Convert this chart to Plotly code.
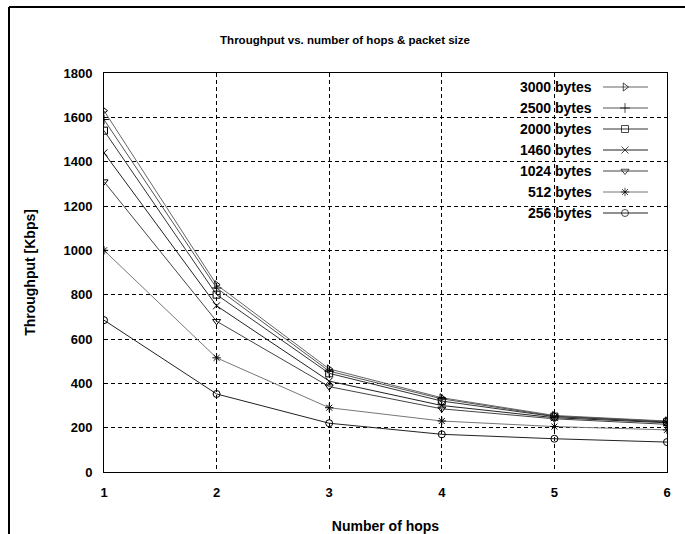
import plotly.graph_objects as go

hops = [1, 2, 3, 4, 5, 6]
names = ["3000 bytes", "2500 bytes", "2000 bytes", "1460 bytes", "1024 bytes", "512 bytes", "256 bytes"]
b3000 = [1630, 845, 465, 335, 255, 230]
b2500 = [1590, 830, 455, 330, 252, 228]
b2000 = [1540, 800, 445, 320, 250, 225]
b1460 = [1440, 750, 410, 300, 245, 222]
b1024 = [1310, 680, 385, 285, 240, 215]
b512 = [1000, 515, 290, 230, 205, 190]
b256 = [685, 352, 220, 170, 150, 135]
series = [b3000, b2500, b2000, b1460, b1024, b512, b256]
symbols = ["triangle-right-open", "cross-thin-open", "square-open", "x-thin-open",
           "triangle-down-open", "asterisk-open", "circle-open"]
line_colors = ["#666", "#555", "#333", "#222", "#444", "#777", "#222"]

W, H = 685, 534
L, R, T, B = 104, 18, 73, 62
pw, ph = W - L - R, H - T - B

def px(x):
    return (x - L) / pw

def py(y):
    return 1 - (y - T) / ph

FONT = "Liberation Sans, Arial, sans-serif"
fig = go.Figure()
for name, vals, sym, col in zip(names, series, symbols, line_colors):
    fig.add_trace(go.Scatter(
        x=hops, y=vals, mode="lines+markers", name=name, showlegend=False,
        line=dict(color=col, width=1),
        marker=dict(symbol=sym, size=7, color="black", line=dict(width=1, color="#222")),
    ))

# legend background box (hides gridlines behind the legend)
fig.add_shape(type="rect", xref="paper", yref="paper", x0=px(505), x1=px(664), y0=py(226), y1=py(75),
              line=dict(width=0), fillcolor="white", layer="between")

# custom legend: text right-aligned, line sample to the right
leg_top, leg_step = 87, 21
for i, (name, sym, col) in enumerate(zip(names, symbols, line_colors)):
    yy = leg_top + i * leg_step
    fig.add_annotation(x=px(594), y=py(yy), xref="paper", yref="paper", text="<b>" + name + "</b>",
                       showarrow=False, xanchor="right", yanchor="middle",
                       font=dict(family=FONT, size=14, color="black"))
    fig.add_trace(go.Scatter(
        x=[603, 625, 648], y=[yy, yy, yy], xaxis="x2", yaxis="y2", mode="lines+markers",
        showlegend=False, hoverinfo="skip",
        line=dict(color=col, width=1),
        marker=dict(symbol=sym, size=[0, 7, 0], color="black", line=dict(width=1, color="#222")),
    ))

axis_common = dict(showline=True, linecolor="black", linewidth=1, mirror=True,
                   showgrid=True, gridcolor="black", griddash="4px,3px", gridwidth=1,
                   ticks="", zeroline=False, automargin=False,
                   tickfont=dict(family=FONT, size=13, color="black", weight="bold"))
fig.update_layout(
    width=W, height=H, margin=dict(l=L, r=R, t=T, b=B),
    paper_bgcolor="white", plot_bgcolor="white",
    title=dict(text="Throughput vs. number of hops & packet size", x=345 / W, xanchor="center",
               xref="container", yref="container", y=1 - 40 / H, yanchor="middle",
               font=dict(family=FONT, size=11.5, color="black", weight="bold")),
    xaxis=dict(range=[1, 6], dtick=1, tickmode="linear", tick0=1, ticklabelstandoff=8,
               title=dict(text="<b>Number of hops</b>", standoff=22,
                          font=dict(family=FONT, size=14, color="black")), **axis_common),
    yaxis=dict(range=[0, 1800], dtick=200, tickmode="linear", tick0=0, ticklabelstandoff=8,
               title=dict(text="<b>Throughput [Kbps]</b>", standoff=24,
                          font=dict(family=FONT, size=14, color="black")), **axis_common),
    xaxis2=dict(range=[L, W - R], overlaying="x", visible=False, fixedrange=True),
    yaxis2=dict(range=[H - B, T], overlaying="y", visible=False, fixedrange=True),
    showlegend=False,
)
# outer frame (left and top edges of the scanned page border)
fig.add_shape(type="line", xref="paper", yref="paper", x0=px(9), x1=px(9), y0=py(560), y1=py(7),
              line=dict(color="black", width=2))
fig.add_shape(type="line", xref="paper", yref="paper", x0=px(9), x1=px(700), y0=py(7), y1=py(7),
              line=dict(color="black", width=2))
fig.write_html("out.html")
